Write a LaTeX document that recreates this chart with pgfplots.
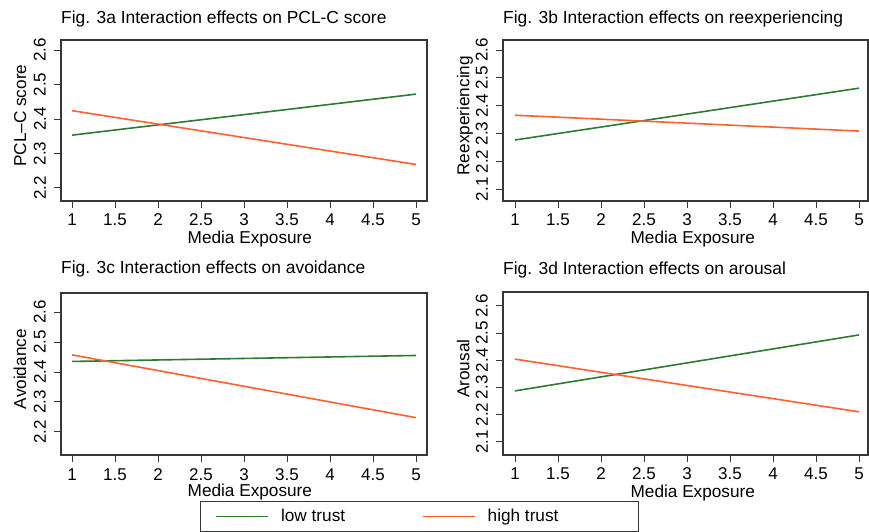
\documentclass[border=0pt]{standalone}
\usepackage{fontspec}
\setmainfont{Liberation Sans}
\usepackage{pgfplots}
\pgfplotsset{compat=1.18}
\definecolor{lowc}{RGB}{46,122,50}
\definecolor{highc}{RGB}{255,96,48}
\definecolor{boxc}{RGB}{55,55,55}
\newcommand{\ff}{\fontsize{17.2}{20}\selectfont}
\newcommand{\ft}{\fontsize{17}{20}\selectfont}
\newcommand{\fh}{\fontsize{17.4}{21}\selectfont}
\pgfplotsset{
  rpanel/.style={
    scale only axis,
    xtick={1,1.5,2,2.5,3,3.5,4,4.5,5},
    tick align=outside, tick pos=left,
    major tick length=7pt,
    every tick/.style={boxc, line width=0.8pt},
    axis line style={boxc, line width=1.2pt},
    /pgf/number format/assume math mode=true,
    /pgf/number format/fixed,
    /pgf/number format/precision=2,
    tick label style={font=\ft, text=black},
    label style={font=\ff},
    title style={font=\fh, anchor=base west, at={(axis description cs:0,1)}, inner sep=0pt},
    xticklabel style={anchor=base, inner sep=0pt, yshift=-18pt},
    yticklabel style={xshift=-8pt, rotate=90, anchor=south, inner sep=0pt},
    xlabel={Media Exposure},
    legend style={font=\ff},
  },
  lowline/.style={lowc, line width=1.6pt},
  highline/.style={highc, line width=1.6pt},
}
\begin{document}
\begin{tikzpicture}
\useasboundingbox (0,0) rectangle (869pt,532pt);
% Panel a
\begin{axis}[rpanel,
  at={(61pt,331pt)}, anchor=south west, width=366pt, height=161pt,
  xmin=0.872, xmax=5.128, ymin=2.162, ymax=2.629,
  ytick={2.2,2.3,2.4,2.5,2.6},
  title={Fig. 3a Interaction effects on PCL-C score},
  title style={yshift=10pt},
  ylabel={PCL–C score},
  ylabel style={at={(axis description cs:-0.0956,0.53)}, anchor=base},
  xlabel style={at={(axis description cs:0.516,-0.261)}, anchor=base},
]
\addplot[lowline] coordinates {(1,2.353) (5,2.472)};
\addplot[highline] coordinates {(1,2.424) (5,2.268)};
\end{axis}
% Panel b
\begin{axis}[rpanel,
  at={(503pt,331pt)}, anchor=south west, width=365pt, height=161pt,
  xmin=0.8605, xmax=5.105, ymin=2.058, ymax=2.636,
  ytick={2.1,2.2,2.3,2.4,2.5,2.6},
  title={Fig. 3b Interaction effects on reexperiencing},
  title style={yshift=10pt},
  ylabel={Reexperiencing},
  ylabel style={at={(axis description cs:-0.092,0.53)}, anchor=base},
  xlabel style={at={(axis description cs:0.52,-0.261)}, anchor=base},
]
\addplot[lowline] coordinates {(1,2.277) (5,2.463)};
\addplot[highline] coordinates {(1,2.366) (5,2.309)};
\end{axis}
% Panel c
\begin{axis}[rpanel,
  at={(61pt,77pt)}, anchor=south west, width=366pt, height=162pt,
  xmin=0.872, xmax=5.128, ymin=2.122, ymax=2.664,
  ytick={2.2,2.3,2.4,2.5,2.6},
  title={Fig. 3c Interaction effects on avoidance},
  title style={yshift=13pt},
  ylabel={Avoidance},
  ylabel style={at={(axis description cs:-0.0956,0.53)}, anchor=base},
  xlabel style={at={(axis description cs:0.516,-0.259)}, anchor=base},
  legend columns=2,
  legend style={at={(axis description cs:0.3798,-0.284)}, anchor=north west,
    draw=boxc, line width=1pt, inner xsep=15pt, inner ysep=8pt,
    nodes={inner sep=0pt},
    /tikz/every odd column/.append style={column sep=12pt},
    /tikz/every even column/.append style={column sep=5pt}},
  legend cell align=left,
  legend image code/.code={\draw[#1] (0pt,0pt) -- (52pt,0pt);},
]
\addplot[lowline] coordinates {(1,2.435) (5,2.455)};
\addlegendentry{\makebox[136pt][l]{low trust}}
\addplot[highline] coordinates {(1,2.457) (5,2.247)};
\addlegendentry{\makebox[136pt][l]{high trust}}
\end{axis}
% Panel d
\begin{axis}[rpanel,
  at={(503pt,77pt)}, anchor=south west, width=365pt, height=163pt,
  xmin=0.8605, xmax=5.105, ymin=2.051, ymax=2.651,
  ytick={2.1,2.2,2.3,2.4,2.5,2.6},
  title={Fig. 3d Interaction effects on arousal},
  title style={yshift=11.5pt},
  ylabel={Arousal},
  ylabel style={at={(axis description cs:-0.092,0.53)}, anchor=base},
  xlabel style={at={(axis description cs:0.52,-0.259)}, anchor=base},
]
\addplot[lowline] coordinates {(1,2.287) (5,2.493)};
\addplot[highline] coordinates {(1,2.404) (5,2.210)};
\end{axis}
\end{tikzpicture}
\end{document}
